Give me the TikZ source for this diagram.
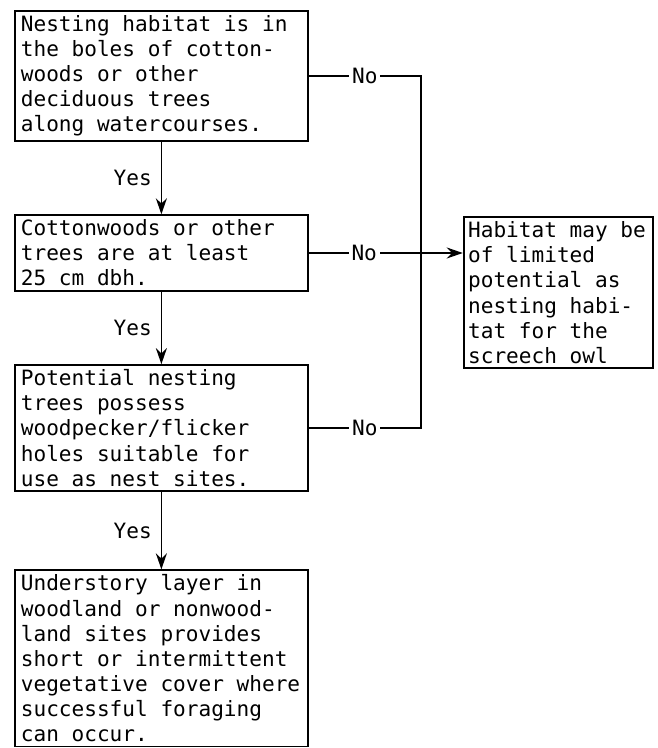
\documentclass[tikz,border=0pt]{standalone}
\usepackage{fontspec}
\setmainfont{DejaVu Sans Mono}
\usetikzlibrary{arrows.meta,positioning}

\begin{document}
\begin{tikzpicture}[
        line width=1pt,
        node distance=1.45cm,
        every node/.style={font=\fontsize{12}{14.3}\selectfont},
        box/.style={draw, align=left, text width=5.62cm, inner xsep=0.12cm, inner ysep=0.09cm,
            execute at begin node={\spaceskip=0pt\xspaceskip=0pt}},
        result/.style={box, text width=3.6cm, inner xsep=0.09cm},
        nolab/.style={fill=white, inner xsep=1.5pt, inner ysep=1pt},
        yeslab/.style={left, inner xsep=5pt},
        flecha/.style={-{Stealth[length=0.32cm, width=0.22cm]}}
    ]
        \useasboundingbox[fill=white] (0,0) rectangle (13.14,-14.96);

        \node[box, anchor=north west] (b1) at (0.28,-0.2) {Nesting habitat is in\\the boles of cotton-\\woods or other\\deciduous trees\\along watercourses.};
        \node[box, below=of b1] (b2) {Cottonwoods or other\\trees are at least\\25 cm dbh.};
        \node[box, below=of b2] (b3) {Potential nesting\\trees possess\\woodpecker/flicker\\holes suitable for\\use as nest sites.};
        \node[box, below=1.55cm of b3] (b4) {Understory layer in\\woodland or nonwood-\\land sites provides\\short or intermittent\\vegetative cover where\\successful foraging\\can occur.};

        \node[result, right=3.08cm of b2.north east, anchor=north west, yshift=-0.04cm] (hab) {Habitat may be\\of limited\\potential as\\nesting habi-\\tat for the\\screech owl};

        \coordinate[right=2.24cm of b1.east] (t1);

        % yes branch
        \draw[flecha] (b1) -- node[yeslab] {Yes} (b2);
        \draw[flecha] (b2) -- node[yeslab] {Yes} (b3);
        \draw[flecha] (b3) -- node[yeslab] {Yes} (b4);

        % no branch
        \draw (b1.east) -- node[nolab] {No} (t1) -- (t1 |- b3.east) -- node[nolab] {No} (b3.east);
        \draw[flecha] (b2.east) -- node[nolab, pos=0.36] {No} (b2.east -| hab.west);
    \end{tikzpicture}
\end{document}
